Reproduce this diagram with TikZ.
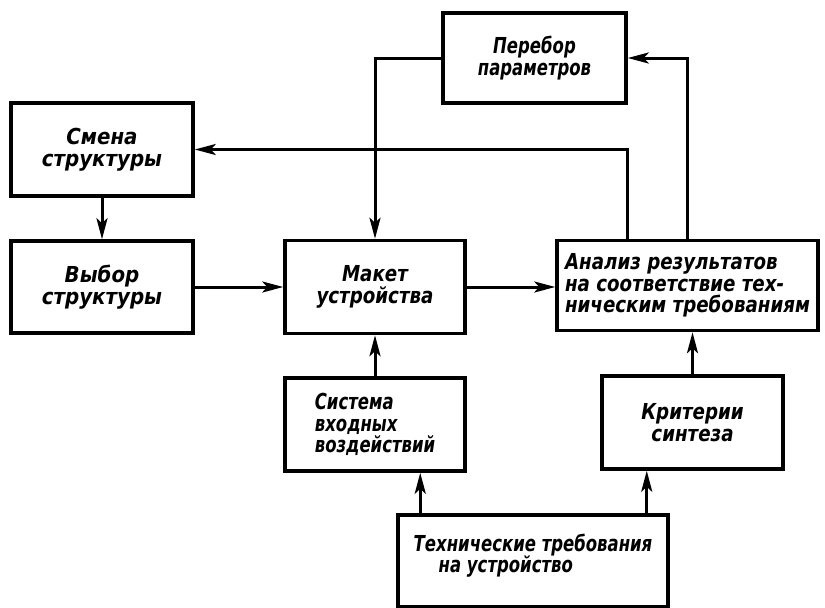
\documentclass[tikz,border=0pt]{standalone}
\usepackage{fontspec}
\setmainfont{DejaVu Sans}[FakeStretch=0.75]
\newfontfamily\midfont{DejaVu Sans}[FakeStretch=0.83]
\newfontfamily\widefont{DejaVu Sans}[FakeStretch=0.9]
\usetikzlibrary{arrows.meta,positioning}

\begin{document}
\begin{tikzpicture}[x=1pt,y=-1pt,font=\fontsize{22}{21.5}\selectfont\bfseries\itshape,
  blk/.style={draw,line width=3.5pt,align=center,inner sep=0pt},
  midtxt/.style={font=\midfont\fontsize{22}{21.5}\selectfont\bfseries\itshape},
  widetxt/.style={font=\widefont\fontsize{22}{21.5}\selectfont\bfseries\itshape},
  arr/.style={line width=3pt,-{Stealth[length=21pt,width=11pt,inset=5pt]}}]
\fill[white] (0,0) rectangle (825,608);
\useasboundingbox (0,0) rectangle (825,608);
% blocks
\node[blk,minimum width=183pt,minimum height=90pt] (pereb) at (534.5,58) {Перебор\\параметров};
\node[blk,widetxt,minimum width=182pt,minimum height=93pt] (smena) at (102,149.5) {Смена\\структуры};
\node[blk,widetxt,minimum width=182pt,minimum height=92pt] (vybor) at (102,287) {Выбор\\структуры};
\node[blk,midtxt,minimum width=180pt,minimum height=93pt] (maket) at (375,287) {Макет\\устройства};
\node[blk,midtxt,minimum width=261pt,minimum height=90pt,align=left] (analiz) at (687.5,285.5) {Анализ результатов\\на соответствие тех-\\ническим требованиям};
\node[blk,minimum width=180pt,minimum height=93pt,align=left] (sist) at (375,424.5) {Система\\входных\\воздействий};
\node[blk,midtxt,minimum width=181pt,minimum height=93pt] (krit) at (692.5,422.5) {Критерии\\синтеза};
\node[blk,minimum width=270pt,minimum height=92pt,align=left] (treb) at (533,561) {Технические требования\\\hspace*{25pt}на устройство\\[-6pt]~};
\coordinate (t1) at ([xshift=24pt]treb.north west);
\coordinate (t2) at ([xshift=-23pt]treb.north east);
% links
\draw[arr] (smena) -- (vybor);
\draw[arr] (vybor) -- (maket);
\draw[arr] (maket.east) -- (maket.east -| analiz.west);
\draw[arr] (sist) -- (maket);
\draw[arr] (krit.north) -- (krit.north |- analiz.south);
\draw[arr] (t1) -- (t1 |- sist.south);
\draw[arr] (t2) -- (t2 |- krit.south);
\draw[arr] (pereb.west) -| (maket.north);
\draw[arr] (analiz.north) |- (pereb.east);
\draw[arr] (analiz.north -| pereb.east) |- (smena.east);
\end{tikzpicture}
\end{document}
